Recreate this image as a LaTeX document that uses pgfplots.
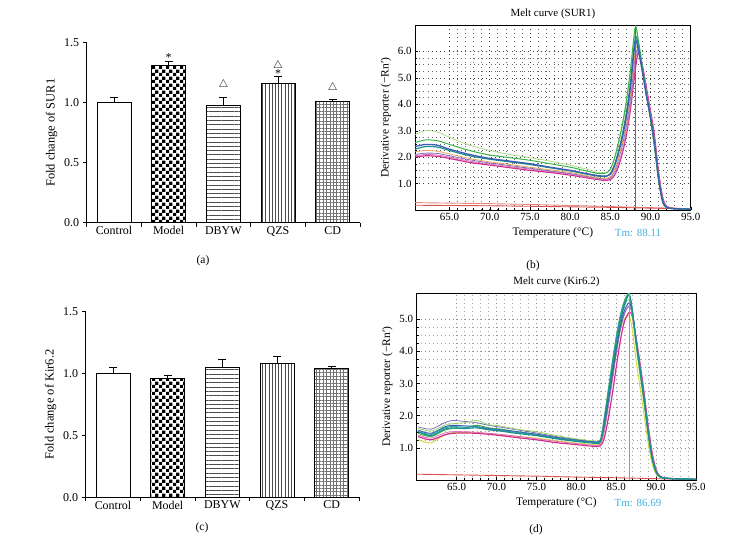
\documentclass[border=0pt]{standalone}
\usepackage{fontspec}
\setmainfont{Liberation Serif}
\usepackage{pgfplots}
\pgfplotsset{compat=1.18}
\usepackage{pgfplotstable}
\usetikzlibrary{patterns,patterns.meta}

\pgfdeclarepatternformonly{mychecker}{\pgfpointorigin}{\pgfqpoint{6.6bp}{6.6bp}}{\pgfqpoint{6.6bp}{6.6bp}}{%
  \pgfpathrectangle{\pgfpointorigin}{\pgfqpoint{3.35bp}{3.35bp}}%
  \pgfpathrectangle{\pgfqpoint{3.3bp}{3.3bp}}{\pgfqpoint{3.35bp}{3.35bp}}%
  \pgfusepath{fill}}

\definecolor{cBlue}{HTML}{3A5FB0}
\definecolor{cGreen}{HTML}{3CB44B}
\definecolor{cLGreen}{HTML}{9AD46A}
\definecolor{cMag}{HTML}{D02C8C}
\definecolor{cPink}{HTML}{E070B8}
\definecolor{cOrange}{HTML}{E8A85A}
\definecolor{cTeal}{HTML}{1E8C8C}
\definecolor{cPurple}{HTML}{8070C0}
\definecolor{cYellow}{HTML}{D4D640}
\definecolor{cCyan}{HTML}{2A9DB0}
\definecolor{cRed}{HTML}{D9534F}
\definecolor{cTm}{HTML}{45B0E0}
\definecolor{cVline}{HTML}{3370E0}
\definecolor{cVline2}{HTML}{6F9FE0}

\pgfplotstableread{
T A B C D E F G H
60.7 2.40 2.55 2.85 2.00 2.10 2.20 2.30 2.05
62.0 2.48 2.65 3.00 2.05 2.15 2.25 2.40 2.10
63.5 2.45 2.62 2.95 2.03 2.14 2.22 2.38 2.08
65.0 2.30 2.48 2.75 1.95 2.05 2.12 2.25 2.00
67.5 2.10 2.25 2.45 1.80 1.90 1.95 2.05 1.85
70.0 1.95 2.08 2.25 1.70 1.78 1.82 1.92 1.74
72.5 1.85 1.98 2.10 1.60 1.68 1.72 1.82 1.64
75.0 1.75 1.88 1.98 1.50 1.58 1.62 1.72 1.55
77.5 1.62 1.75 1.85 1.42 1.48 1.52 1.60 1.46
80.0 1.50 1.62 1.70 1.32 1.38 1.42 1.48 1.36
82.0 1.38 1.48 1.55 1.22 1.28 1.30 1.36 1.25
83.5 1.30 1.38 1.42 1.15 1.20 1.22 1.28 1.18
84.5 1.28 1.40 1.42 1.12 1.18 1.20 1.28 1.15
85.0 1.35 1.55 1.55 1.15 1.22 1.25 1.38 1.18
85.5 1.65 1.95 1.90 1.30 1.45 1.50 1.70 1.35
86.0 2.15 2.55 2.45 1.65 1.90 1.95 2.20 1.75
86.5 2.75 3.25 3.15 2.15 2.45 2.55 2.85 2.25
87.0 3.55 4.15 4.05 2.85 3.20 3.35 3.70 3.00
87.5 4.65 5.30 5.20 3.80 4.20 4.40 4.80 3.95
88.1 6.35 6.90 6.80 5.30 5.80 6.00 6.50 5.60
88.5 6.00 6.40 6.30 5.95 6.05 6.10 6.20 6.00
89.0 5.20 5.40 5.35 5.45 5.35 5.30 5.30 5.40
89.5 4.30 4.35 4.30 4.60 4.45 4.40 4.35 4.50
90.0 3.50 3.40 3.40 3.75 3.60 3.55 3.50 3.65
90.5 2.50 2.35 2.35 2.80 2.60 2.55 2.50 2.65
91.0 1.20 1.10 1.10 1.45 1.30 1.25 1.20 1.35
91.5 0.35 0.30 0.30 0.50 0.40 0.38 0.35 0.45
92.0 0.10 0.10 0.10 0.14 0.12 0.12 0.10 0.13
93.0 0.05 0.05 0.05 0.06 0.05 0.05 0.05 0.06
95.0 0.03 0.03 0.03 0.03 0.03 0.03 0.03 0.03
}\sur

\pgfplotstableread{
T A B C D E F G H I
60.2 1.50 1.55 1.45 1.35 1.40 1.25 1.65 1.50 1.60
61.0 1.42 1.48 1.38 1.28 1.33 1.18 1.60 1.45 1.55
61.8 1.38 1.45 1.35 1.25 1.30 1.15 1.58 1.42 1.52
62.5 1.45 1.52 1.42 1.30 1.36 1.25 1.65 1.50 1.58
63.5 1.58 1.65 1.55 1.40 1.46 1.40 1.78 1.62 1.70
64.5 1.62 1.70 1.60 1.45 1.50 1.47 1.85 1.66 1.75
66.0 1.60 1.68 1.62 1.46 1.50 1.48 1.82 1.64 1.78
67.5 1.62 1.66 1.70 1.45 1.48 1.47 1.78 1.65 1.85
69.0 1.56 1.60 1.62 1.42 1.45 1.44 1.70 1.58 1.72
70.5 1.52 1.56 1.58 1.38 1.42 1.40 1.64 1.54 1.68
72.5 1.45 1.50 1.50 1.32 1.36 1.36 1.56 1.48 1.58
75.0 1.38 1.42 1.42 1.25 1.28 1.30 1.46 1.40 1.50
77.5 1.28 1.32 1.32 1.16 1.20 1.22 1.35 1.30 1.38
80.0 1.20 1.24 1.23 1.10 1.13 1.15 1.26 1.22 1.28
82.0 1.15 1.19 1.18 1.05 1.08 1.10 1.20 1.17 1.22
83.0 1.18 1.22 1.22 1.06 1.10 1.12 1.22 1.22 1.26
83.5 1.80 1.70 1.95 1.30 1.50 1.55 1.60 1.85 1.90
84.0 2.60 2.45 2.80 1.90 2.25 2.35 2.35 2.70 2.70
84.5 3.40 3.25 3.65 2.65 3.05 3.15 3.15 3.55 3.50
85.0 4.20 4.05 4.45 3.50 3.90 3.95 3.95 4.35 4.30
85.5 4.90 4.75 5.10 4.30 4.65 4.65 4.65 5.05 5.00
86.0 5.40 5.25 5.55 4.90 5.15 5.00 5.15 5.50 5.40
86.6 5.75 5.50 5.80 5.20 5.40 5.10 5.40 5.75 5.60
87.0 5.30 5.25 5.30 5.10 5.20 4.70 5.15 5.30 5.15
87.5 4.30 4.35 4.25 4.40 4.40 3.70 4.30 4.30 4.10
88.0 3.40 3.45 3.35 3.60 3.55 2.85 3.45 3.40 3.20
88.5 2.50 2.55 2.45 2.70 2.65 2.00 2.55 2.50 2.30
89.0 1.50 1.55 1.45 1.70 1.65 1.15 1.55 1.50 1.35
89.5 0.70 0.72 0.65 0.85 0.80 0.50 0.72 0.70 0.60
90.0 0.25 0.27 0.24 0.32 0.30 0.18 0.27 0.25 0.22
90.5 0.10 0.10 0.10 0.12 0.11 0.08 0.10 0.10 0.09
91.5 0.05 0.05 0.05 0.05 0.05 0.05 0.05 0.05 0.05
95.0 0.02 0.02 0.02 0.02 0.02 0.02 0.02 0.02 0.02
}\kir

\pgfplotsset{
  /pgf/number format/assume math mode=true,
  barax/.style={
    scale only axis, ybar,
    font=\fontsize{12}{14}\selectfont,
    axis x line=bottom, axis y line=left,
    axis line style={-, line width=0.8pt},
    xmin=-0.5, xmax=4.5, ymin=0, ymax=1.5,
    ytick={0,0.5,1,1.5},
    yticklabel style={/pgf/number format/.cd, fixed, fixed zerofill, precision=1},
    xtick={-0.5,0.5,1.5,2.5,3.5,4.5}, xticklabels={},
    extra x ticks={0,1,2,3,4},
    extra x tick labels={Control,Model,DBYW,QZS,CD},
    extra x tick style={major tick length=0pt},
    tick align=outside, major tick length=4bp,
    every tick/.style={black, line width=0.8pt},
    ylabel style={font=\fontsize{12.5}{14}\selectfont},
  },
  bar/.style={bar shift=0pt, bar width=0.62, draw=black, line width=0.8pt,
    error bars/y dir=plus, error bars/y explicit,
    error bars/error bar style={line width=0.8pt, black},
    error bars/error mark options={rotate=90, mark size=4bp, line width=0.8pt, black}},
  meltax/.style={
    scale only axis, xmax=95, ymin=0,
    font=\fontsize{11}{13}\selectfont,
    xtick={65,70,75,80,85,90,95},
    xticklabel style={/pgf/number format/.cd, fixed, fixed zerofill, precision=1},
    yticklabel style={/pgf/number format/.cd, fixed, fixed zerofill, precision=1},
    grid=both, minor x tick num=4, minor y tick num=3,
    tick pos=left, tick align=inside,
    major tick length=3bp, minor tick length=2bp,
    every tick/.style={black, line width=0.4pt},
    axis line style={line width=0.6pt},
    xlabel={Temperature (°C)},
    ylabel={Derivative reporter (−Rn′)},
    ylabel style={font=\fontsize{11.5}{13}\selectfont},
    xlabel style={font=\fontsize{11.5}{13}\selectfont},
    title style={yshift=-3bp},
  },
}

\begin{document}
\begin{tikzpicture}
\path[use as bounding box] (0bp,0bp) rectangle (747bp,546bp);

% (a)
\begin{axis}[barax, at={(86.7bp,323.3bp)}, anchor=south west,
  width=273.3bp, height=180bp, ylabel={Fold change of SUR1}]
\addplot[bar, fill=white] coordinates {(0,1.000) +- (0,0.045)};
\addplot[bar, pattern=mychecker, pattern color=black] coordinates {(1,1.314) +- (0,0.028)};
\addplot[bar, pattern={Lines[angle=0,distance=4.3bp,line width=0.5bp]}, pattern color=black!70] coordinates {(2,0.978) +- (0,0.066)};
\addplot[bar, pattern={Lines[angle=90,distance=3.2bp,line width=0.5bp]}, pattern color=black!70] coordinates {(3,1.161) +- (0,0.056)};
\addplot[bar, pattern={Hatch[angle=0,distance=3.4bp,line width=0.4bp]}, pattern color=black!55] coordinates {(4,1.008) +- (0,0.020)};
\node[font=\fontsize{12}{12}\selectfont] at (axis cs:1,1.372) {*};
\node[font=\fontsize{10.5}{10}\selectfont] at (axis cs:2,1.147) {$\triangle$};
\node[font=\fontsize{10.5}{10}\selectfont] at (axis cs:3,1.31) {$\triangle$};
\node[font=\fontsize{12}{12}\selectfont] at (axis cs:3,1.245) {*};
\node[font=\fontsize{10.5}{10}\selectfont] at (axis cs:4,1.125) {$\triangle$};
\end{axis}

% (c)
\begin{axis}[barax, at={(85.7bp,48.7bp)}, anchor=south west,
  width=273.3bp, height=185.6bp, ylabel={Fold change of Kir6.2}]
\addplot[bar, fill=white] coordinates {(0,1.000) +- (0,0.050)};
\addplot[bar, pattern=mychecker, pattern color=black] coordinates {(1,0.960) +- (0,0.025)};
\addplot[bar, pattern={Lines[angle=0,distance=4.3bp,line width=0.5bp]}, pattern color=black!70] coordinates {(2,1.048) +- (0,0.070)};
\addplot[bar, pattern={Lines[angle=90,distance=3.2bp,line width=0.5bp]}, pattern color=black!70] coordinates {(3,1.083) +- (0,0.054)};
\addplot[bar, pattern={Hatch[angle=0,distance=3.4bp,line width=0.4bp]}, pattern color=black!55] coordinates {(4,1.040) +- (0,0.016)};
\end{axis}

% (b)
\begin{axis}[meltax, at={(415bp,336bp)}, anchor=south west,
  width=275.7bp, height=185bp, xmin=60.7, ymax=7,
  ytick={1,2,3,4,5,6}, title={Melt curve (SUR1)},
  major grid style={black!75, line width=0.7bp, dash pattern=on 0.6bp off 3.6bp},
  minor grid style={black!60, line width=0.6bp, dash pattern=on 0.6bp off 3.6bp}]
\addplot[cRed!70, line width=0.9pt] coordinates {(60.7,0.28) (65,0.26) (70,0.24) (75,0.21) (80,0.17) (85,0.13) (90,0.09) (95,0.05)};
\addplot[cRed, line width=0.9pt] coordinates {(60.7,0.18) (65,0.17) (70,0.16) (75,0.14) (80,0.12) (85,0.10) (90,0.07) (95,0.04)};
\addplot[cLGreen, line width=0.6pt, smooth] table[x=T,y=C] {\sur};
\addplot[cMag, line width=1.2pt, smooth] table[x=T,y=D] {\sur};
\addplot[cPink, line width=0.8pt, smooth] table[x=T,y=H] {\sur};
\addplot[cPurple, line width=0.8pt, smooth] table[x=T,y=E] {\sur};
\addplot[cOrange, line width=0.8pt, smooth] table[x=T,y=F] {\sur};
\addplot[cGreen, line width=1.0pt, smooth] table[x=T,y=B] {\sur};
\addplot[cTeal, line width=1.2pt, smooth] table[x=T,y=G] {\sur};
\addplot[cBlue, line width=1.3pt, smooth] table[x=T,y=A] {\sur};
\addplot[draw=cVline, line width=1.6pt] coordinates {(88.11,0) (88.11,7)};
\end{axis}

% (d)
\begin{axis}[meltax, at={(416.7bp,66bp)}, anchor=south west,
  width=279.3bp, height=186.7bp, xmin=60, ymax=5.8,
  ytick={1,2,3,4,5}, title={Melt curve (Kir6.2)},
  major grid style={black!45, line width=0.6bp, dash pattern=on 0.5bp off 3.5bp},
  minor grid style={black!35, line width=0.5bp, dash pattern=on 0.5bp off 3.5bp}]
\addplot[cRed, line width=0.9pt] coordinates {(60,0.18) (65,0.16) (70,0.14) (75,0.12) (80,0.09) (85,0.07) (90,0.04) (95,0.02)};
\addplot[cYellow, line width=0.9pt, smooth] table[x=T,y=F] {\kir};
\addplot[cMag, line width=1.2pt, smooth] table[x=T,y=D] {\kir};
\addplot[cPink, line width=0.8pt, smooth] table[x=T,y=E] {\kir};
\addplot[cPurple, line width=0.8pt, smooth] table[x=T,y=G] {\kir};
\addplot[cLGreen, line width=0.8pt, smooth] table[x=T,y=I] {\kir};
\addplot[cGreen, line width=1.0pt, smooth] table[x=T,y=C] {\kir};
\addplot[cBlue, line width=1.0pt, smooth] table[x=T,y=B] {\kir};
\addplot[cCyan, line width=1.0pt, smooth] table[x=T,y=H] {\kir};
\addplot[cTeal, line width=1.2pt, smooth] table[x=T,y=A] {\kir};
\addplot[draw=cVline2, line width=0.9pt] coordinates {(86.69,0) (86.69,5.8)};
\end{axis}

\node[font=\fontsize{11.5}{13}\selectfont] at (203bp,285bp) {(a)};
\node[font=\fontsize{11.5}{13}\selectfont] at (533bp,280bp) {(b)};
\node[font=\fontsize{11.5}{13}\selectfont] at (202bp,18bp) {(c)};
\node[font=\fontsize{11.5}{13}\selectfont] at (536bp,16bp) {(d)};
\node[font=\fontsize{11}{13}\selectfont, text=cTm] at (638bp,313bp) {Tm: 88.11};
\node[font=\fontsize{11}{13}\selectfont, text=cTm] at (638bp,42.7bp) {Tm: 86.69};
\end{tikzpicture}
\end{document}
